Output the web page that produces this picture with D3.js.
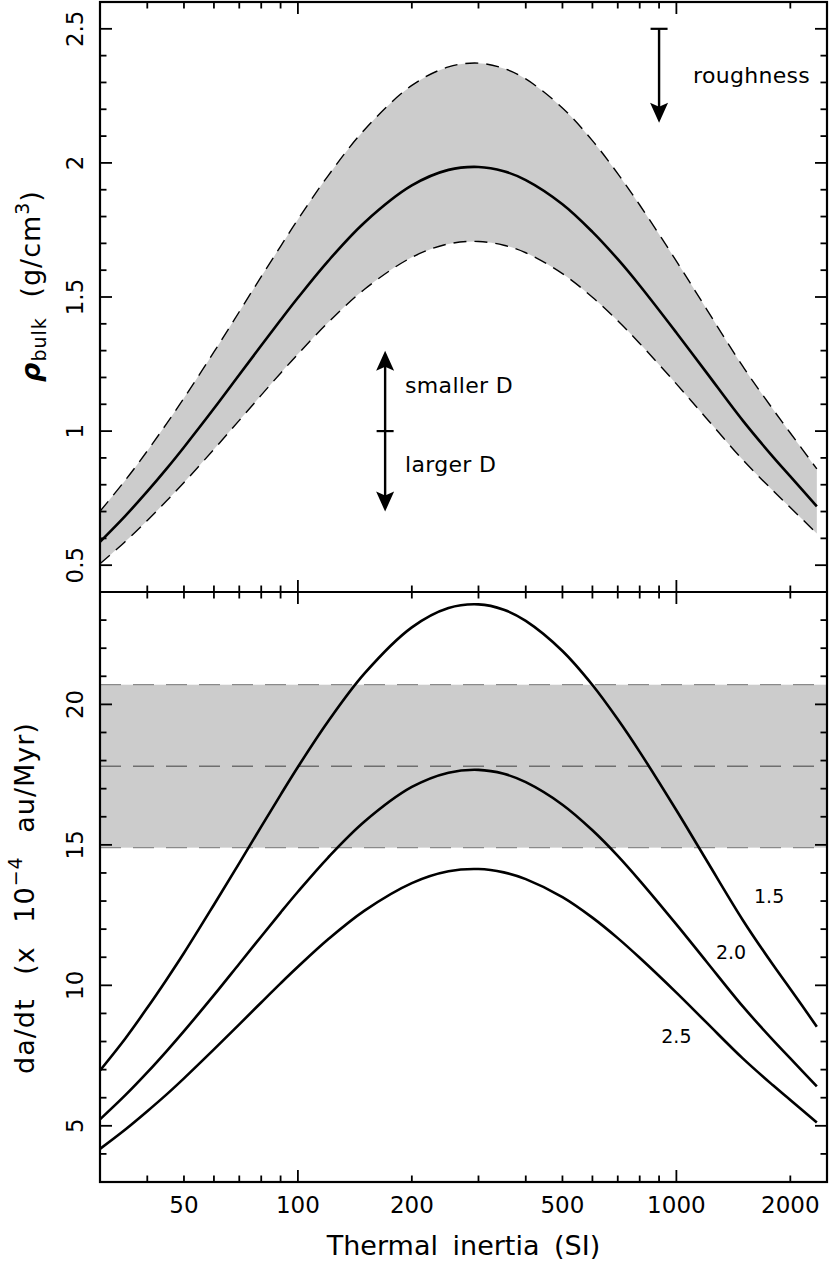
<!DOCTYPE html>
<html>
<head>
<meta charset="utf-8">
<script src="https://cdn.jsdelivr.net/npm/d3@7"></script>
<style>
  html, body { margin: 0; padding: 0; background: #fff; }
  svg { display: block; font-family: "DejaVu Sans", sans-serif; }
</style>
</head>
<body>
<svg id="chart" width="830" height="1263"></svg>
<script>
// ---------- data ----------
const inertia = [30, 35, 40, 45, 50, 60, 70, 80, 90, 100, 120, 150, 200, 250, 300, 350, 400, 500, 600, 700, 800, 1000, 1200, 1500, 1800, 2000, 2350];

// top panel: bulk density (g/cm^3)
const rhoNominal = [0.587, 0.684, 0.775, 0.860, 0.940, 1.084, 1.210, 1.319, 1.414, 1.497, 1.633, 1.778, 1.916, 1.974, 1.985, 1.969, 1.936, 1.846, 1.743, 1.641, 1.543, 1.367, 1.219, 1.038, 0.904, 0.831, 0.719];
const rhoUpper   = [0.701, 0.817, 0.926, 1.028, 1.123, 1.295, 1.445, 1.576, 1.689, 1.789, 1.951, 2.124, 2.289, 2.358, 2.372, 2.352, 2.313, 2.205, 2.083, 1.960, 1.843, 1.634, 1.456, 1.240, 1.081, 0.993, 0.859];
const rhoLower   = [0.505, 0.588, 0.667, 0.740, 0.808, 0.932, 1.040, 1.134, 1.216, 1.287, 1.404, 1.529, 1.648, 1.698, 1.707, 1.693, 1.665, 1.587, 1.499, 1.411, 1.327, 1.176, 1.048, 0.892, 0.778, 0.715, 0.618];

// bottom panel: da/dt (x 1e-4 au/Myr) for bulk densities 1.5, 2.0, 2.5
const dadt15 = [6.97, 8.11, 9.20, 10.21, 11.15, 12.87, 14.35, 15.65, 16.78, 17.77, 19.38, 21.10, 22.74, 23.43, 23.56, 23.37, 22.97, 21.90, 20.69, 19.47, 18.31, 16.23, 14.46, 12.31, 10.73, 9.87, 8.53];
const dadt20 = [5.23, 6.09, 6.90, 7.66, 8.37, 9.65, 10.77, 11.74, 12.59, 13.33, 14.54, 15.83, 17.06, 17.57, 17.67, 17.53, 17.23, 16.43, 15.52, 14.61, 13.73, 12.17, 10.85, 9.24, 8.05, 7.40, 6.40];
const dadt25 = [4.18, 4.87, 5.52, 6.12, 6.69, 7.72, 8.61, 9.39, 10.07, 10.66, 11.63, 12.66, 13.64, 14.06, 14.14, 14.02, 13.78, 13.14, 12.41, 11.68, 10.98, 9.74, 8.68, 7.39, 6.44, 5.92, 5.12];

// measured drift band
const dadtObsLow = 14.9, dadtObsMid = 17.8, dadtObsHigh = 20.7;

// curve labels
const curveLabels = [
  { text: "1.5", x: 1758, y: 12.93 },
  { text: "2.0", x: 1395, y: 10.94 },
  { text: "2.5", x: 1000, y: 7.95 }
];

// ticks
const xMajorTicks = [100, 1000];
const xMinorTicks = [40, 50, 60, 70, 80, 90, 200, 300, 400, 500, 600, 700, 800, 900, 2000];
const xTickLabels = [50, 100, 200, 500, 1000, 2000];
const topMajorTicks = [0.5, 1, 1.5, 2, 2.5];
const topTickLabels = ["0.5", "1", "1.5", "2", "2.5"];
const botMajorTicks = [5, 10, 15, 20];
const botTickLabels = ["5", "10", "15", "20"];

// ---------- layout ----------
const L = 100, R = 827, T = 2, M = 592, B = 1182;
const svg = d3.select("#chart");

const x = d3.scaleLog().domain([30, 2500]).range([L, R]);
const yTop = d3.scaleLinear().domain([0.4, 2.6]).range([M, T]);
const yBot = d3.scaleLinear().domain([3, 24]).range([B, M]);

const topMinorTicks = d3.range(4, 27).filter(d => d % 5 !== 0).map(d => d / 10);
const botMinorTicks = d3.range(3, 25).filter(d => d % 5 !== 0);

const curve = d3.curveCatmullRom.alpha(0.5);
const idx = d3.range(inertia.length);

// ---------- top panel ----------
const area = d3.area()
  .x(i => x(inertia[i]))
  .y0(i => yTop(rhoLower[i]))
  .y1(i => yTop(rhoUpper[i]))
  .curve(curve);
svg.append("path").attr("d", area(idx)).attr("fill", "#cccccc");

function lineOf(arr, ys) {
  return d3.line().x(i => x(inertia[i])).y(i => ys(arr[i])).curve(curve)(idx);
}
[rhoUpper, rhoLower].forEach(arr => {
  svg.append("path").attr("d", lineOf(arr, yTop))
    .attr("fill", "none").attr("stroke", "#000").attr("stroke-width", 1.4)
    .attr("stroke-dasharray", "13,8");
});
svg.append("path").attr("d", lineOf(rhoNominal, yTop))
  .attr("fill", "none").attr("stroke", "#000").attr("stroke-width", 2.6);

// ---------- bottom panel ----------
svg.append("rect")
  .attr("x", L).attr("width", R - L)
  .attr("y", yBot(dadtObsHigh)).attr("height", yBot(dadtObsLow) - yBot(dadtObsHigh))
  .attr("fill", "#cccccc");
[dadtObsLow, dadtObsHigh].forEach(v => {
  svg.append("line").attr("x1", L).attr("x2", R).attr("y1", yBot(v)).attr("y2", yBot(v))
    .attr("stroke", "#8a8a8a").attr("stroke-width", 1.2).attr("stroke-dasharray", "21,12");
});
svg.append("line").attr("x1", L).attr("x2", R).attr("y1", yBot(dadtObsMid)).attr("y2", yBot(dadtObsMid))
  .attr("stroke", "#6e6e6e").attr("stroke-width", 1.5).attr("stroke-dasharray", "21,12");

[dadt15, dadt20, dadt25].forEach(arr => {
  svg.append("path").attr("d", lineOf(arr, yBot))
    .attr("fill", "none").attr("stroke", "#000").attr("stroke-width", 2.6);
});

curveLabels.forEach(d => {
  svg.append("text").attr("x", x(d.x)).attr("y", yBot(d.y))
    .attr("text-anchor", "middle").attr("font-size", 19).text(d.text);
});

// ---------- annotations ----------
function arrowHead(px, py, dir) { // dir -1 = pointing up, +1 = pointing down
  const len = 20, hw = 9, notch = 16;
  return `M${px},${py} L${px - hw},${py - dir * len} L${px},${py - dir * notch} L${px + hw},${py - dir * len} Z`;
}
// diameter arrow
const ax = x(170), aTop = yTop(1.3), aBot = yTop(0.7), aMid = yTop(1.0);
svg.append("line").attr("x1", ax).attr("x2", ax).attr("y1", aTop + 4).attr("y2", aBot - 4)
  .attr("stroke", "#000").attr("stroke-width", 2.4);
svg.append("line").attr("x1", ax - 8.5).attr("x2", ax + 8.5).attr("y1", aMid).attr("y2", aMid)
  .attr("stroke", "#000").attr("stroke-width", 2.2);
svg.append("path").attr("d", arrowHead(ax, aTop, -1)).attr("fill", "#000");
svg.append("path").attr("d", arrowHead(ax, aBot, 1)).attr("fill", "#000");
svg.append("text").attr("x", ax + 20).attr("y", aMid - 38).attr("font-size", 22)
  .attr("letter-spacing", 0.3).text("smaller D");
svg.append("text").attr("x", ax + 20).attr("y", aMid + 41).attr("font-size", 22)
  .attr("letter-spacing", 0.3).text("larger D");

// roughness arrow
const rx = x(900), rTop = yTop(2.5), rBot = yTop(2.15);
svg.append("line").attr("x1", rx).attr("x2", rx).attr("y1", rTop).attr("y2", rBot - 4)
  .attr("stroke", "#000").attr("stroke-width", 2.4);
svg.append("line").attr("x1", rx - 8.5).attr("x2", rx + 8.5).attr("y1", rTop).attr("y2", rTop)
  .attr("stroke", "#000").attr("stroke-width", 2.2);
svg.append("path").attr("d", arrowHead(rx, rBot, 1)).attr("fill", "#000");
svg.append("text").attr("x", rx + 34).attr("y", rTop + 54).attr("font-size", 22)
  .attr("letter-spacing", 0.3).text("roughness");

// ---------- frame & ticks ----------
const axisColor = "#000";
svg.append("rect").attr("x", L).attr("y", T).attr("width", R - L).attr("height", B - T)
  .attr("fill", "none").attr("stroke", axisColor).attr("stroke-width", 2.2);
svg.append("line").attr("x1", L).attr("x2", R).attr("y1", M).attr("y2", M)
  .attr("stroke", axisColor).attr("stroke-width", 2.2);

const tickG = svg.append("g").attr("stroke", axisColor).attr("stroke-width", 1.8);
const majorLen = 12, minorLen = 6.5;
function xTicks(vals, len) {
  vals.forEach(v => {
    const px = x(v);
    [[T, 1], [M, -1], [M, 1], [B, -1]].forEach(([y0, dir]) => {
      tickG.append("line").attr("x1", px).attr("x2", px).attr("y1", y0).attr("y2", y0 + dir * len);
    });
  });
}
xTicks(xMajorTicks, majorLen);
xTicks(xMinorTicks, minorLen);

function yTicks(vals, ys, len) {
  vals.forEach(v => {
    const py = ys(v);
    tickG.append("line").attr("x1", L).attr("x2", L + len).attr("y1", py).attr("y2", py);
    tickG.append("line").attr("x1", R).attr("x2", R - len).attr("y1", py).attr("y2", py);
  });
}
yTicks(topMajorTicks, yTop, majorLen);
yTicks(topMinorTicks, yTop, minorLen);
yTicks(botMajorTicks, yBot, majorLen);
yTicks(botMinorTicks, yBot, minorLen);

// tick labels
xTickLabels.forEach(v => {
  svg.append("text").attr("x", x(v)).attr("y", 1213).attr("text-anchor", "middle")
    .attr("font-size", 23).text(v);
});
topMajorTicks.forEach((v, i) => {
  svg.append("text").attr("transform", `translate(83,${yTop(v)}) rotate(-90)`)
    .attr("text-anchor", "middle").attr("font-size", 23).text(topTickLabels[i]);
});
botMajorTicks.forEach((v, i) => {
  svg.append("text").attr("transform", `translate(83,${yBot(v)}) rotate(-90)`)
    .attr("text-anchor", "middle").attr("font-size", 23).text(botTickLabels[i]);
});

// axis titles
svg.append("text").attr("x", (L + R) / 2).attr("y", 1255).attr("text-anchor", "middle")
  .attr("font-size", 27).attr("word-spacing", 6).text("Thermal inertia (SI)");

const t1 = svg.append("text").attr("transform", `translate(40,286) rotate(-90)`)
  .attr("text-anchor", "middle").attr("font-size", 27).attr("letter-spacing", 1).attr("word-spacing", 10);
t1.append("tspan").attr("font-weight", "bold").attr("font-style", "italic").text("ρ");
t1.append("tspan").attr("font-size", 19).attr("dy", 6).text("bulk");
t1.append("tspan").attr("dy", -6).text(" (g/cm");
t1.append("tspan").attr("font-size", 19).attr("dy", -11).text("3");
t1.append("tspan").attr("dy", 11).text(")");

const t2 = svg.append("text").attr("transform", `translate(34,898) rotate(-90)`)
  .attr("text-anchor", "middle").attr("font-size", 27).attr("letter-spacing", 1).attr("word-spacing", 14);
t2.append("tspan").text("da/dt (x 10");
t2.append("tspan").attr("font-size", 19).attr("dy", -12).text("−4");
t2.append("tspan").attr("dy", 12).text(" au/Myr)");
</script>
</body>
</html>
